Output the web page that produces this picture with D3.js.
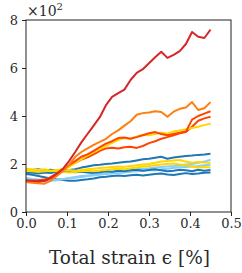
<!DOCTYPE html>
<html>
<head>
<meta charset="utf-8">
<script src="https://d3js.org/d3.v7.min.js"></script>
<style>
  body { margin: 0; background: #fff; }
</style>
</head>
<body>
<svg width="242" height="273" font-family="'DejaVu Serif', serif"></svg>
<script>
// strain [%] sampled along each test
var strain = [0, 0.015, 0.03, 0.045, 0.06, 0.075, 0.09, 0.105, 0.12, 0.135, 0.15, 0.165, 0.18, 0.195, 0.21,
  0.225, 0.24, 0.255, 0.27, 0.285, 0.3, 0.315, 0.33, 0.345, 0.36, 0.375, 0.39, 0.405, 0.42, 0.435, 0.45];

// values in units of 10^2
var blue1 = [1.62, 1.65, 1.6, 1.65, 1.62, 1.68, 1.72, 1.75, 1.78, 1.85, 1.9, 1.95, 1.97, 2.0, 2.02, 2.05, 2.08, 2.1, 2.15, 2.2, 2.22, 2.26, 2.3, 2.22, 2.27, 2.3, 2.33, 2.35, 2.38, 2.4, 2.43];
var blue2 = [1.72, 1.75, 1.78, 1.73, 1.76, 1.72, 1.7, 1.68, 1.66, 1.68, 1.65, 1.63, 1.66, 1.7, 1.68, 1.72, 1.7, 1.74, 1.76, 1.72, 1.75, 1.78, 1.74, 1.7, 1.72, 1.76, 1.74, 1.7, 1.76, 1.72, 1.75];
var blue3 = [1.58, 1.55, 1.5, 1.45, 1.4, 1.36, 1.33, 1.3, 1.3, 1.33, 1.36, 1.4, 1.45, 1.47, 1.5, 1.52, 1.5, 1.53, 1.55, 1.52, 1.55, 1.58, 1.6, 1.56, 1.54, 1.58, 1.62, 1.58, 1.6, 1.64, 1.65];
var light1 = [1.42, 1.38, 1.35, 1.33, 1.32, 1.35, 1.38, 1.42, 1.46, 1.5, 1.52, 1.55, 1.6, 1.62, 1.65, 1.7, 1.72, 1.75, 1.78, 1.8, 1.82, 1.85, 1.88, 1.9, 1.92, 1.95, 1.98, 2.0, 2.05, 2.1, 2.18];
var light2 = [1.35, 1.32, 1.3, 1.28, 1.3, 1.32, 1.36, 1.4, 1.43, 1.46, 1.5, 1.52, 1.55, 1.58, 1.6, 1.62, 1.65, 1.68, 1.7, 1.72, 1.75, 1.73, 1.78, 1.8, 1.83, 1.86, 1.88, 1.9, 1.92, 1.95, 1.97];
var yellow1 = [1.8, 1.78, 1.75, 1.78, 1.72, 1.7, 1.72, 1.75, 1.72, 1.75, 1.78, 1.8, 1.83, 1.85, 1.88, 1.9, 1.88, 1.92, 1.95, 1.98, 2.0, 2.05, 2.1, 2.12, 2.15, 2.17, 2.1, 2.05, 2.08, 2.06, 2.05];
var yellow2 = [1.75, 1.72, 1.7, 1.68, 1.7, 1.72, 1.68, 1.65, 1.67, 1.7, 1.72, 1.7, 1.73, 1.75, 1.78, 1.8, 1.78, 1.82, 1.85, 1.9, 1.92, 1.95, 1.98, 2.0, 2.02, 1.98, 1.95, 1.9, 1.85, 1.87, 1.85];
var yellow3 = [1.72, 1.7, 1.68, 1.7, 1.72, 1.75, 1.78, 1.88, 2.05, 2.2, 2.35, 2.5, 2.62, 2.75, 2.88, 3.0, 3.08, 3.05, 3.15, 3.22, 3.2, 3.25, 3.3, 3.27, 3.35, 3.4, 3.45, 3.5, 3.55, 3.62, 3.68];
var redorange1 = [1.3, 1.27, 1.25, 1.3, 1.4, 1.55, 1.75, 1.95, 2.12, 2.3, 2.4, 2.55, 2.7, 2.85, 2.95, 3.08, 3.1, 3.05, 3.12, 3.2, 3.28, 3.33, 3.25, 3.2, 3.25, 3.3, 3.35, 3.85, 4.0, 4.1, 4.2];
var redorange2 = [1.28, 1.3, 1.32, 1.35, 1.45, 1.6, 1.78, 1.95, 2.05, 2.18, 2.28, 2.4, 2.55, 2.65, 2.68, 2.65, 2.7, 2.72, 2.67, 2.75, 2.87, 2.95, 3.05, 3.12, 3.2, 3.28, 3.33, 3.55, 3.8, 3.9, 3.97];
var orange = [1.25, 1.22, 1.2, 1.18, 1.3, 1.5, 1.7, 1.95, 2.3, 2.5, 2.65, 2.8, 2.92, 3.05, 3.25, 3.4, 3.6, 3.78, 4.05, 4.12, 4.15, 4.2, 4.17, 3.97, 4.18, 4.3, 4.35, 4.58, 4.25, 4.32, 4.58];
var red = [1.32, 1.3, 1.28, 1.3, 1.42, 1.6, 1.8, 2.12, 2.5, 2.9, 3.25, 3.6, 3.95, 4.45, 4.8, 4.95, 5.1, 5.5, 5.8, 5.95, 6.2, 6.45, 6.68, 6.42, 6.55, 6.7, 7.0, 7.5, 7.3, 7.25, 7.6];

var series = [blue3, light2, light1, blue2, yellow2, blue1, yellow1, redorange2, yellow3, redorange1, orange, red];
var colors = ["#1f77b4", "#87cefa", "#87cefa", "#1f77b4", "#ffd700", "#1f77b4", "#ffd700", "#ff4500", "#ffd700", "#ff4500", "#ff7f0e", "#d62728"];

var xTicks = [0, 0.1, 0.2, 0.3, 0.4, 0.5];
var yTicks = [0, 2, 4, 6, 8];

var svg = d3.select("svg"),
    margin = {top: 20, right: 11, bottom: 61, left: 26},
    width = +svg.attr("width") - margin.left - margin.right,
    height = +svg.attr("height") - margin.top - margin.bottom;

var g = svg.append("g").attr("transform", "translate(" + margin.left + "," + margin.top + ")");

var x = d3.scaleLinear().domain([0, 0.5]).range([0, width]);
var y = d3.scaleLinear().domain([0, 8]).range([height, 0]);

var line = d3.line()
    .x(function(d, i) { return x(strain[i]); })
    .y(function(d) { return y(d); });

g.selectAll(".run")
  .data(series)
  .enter().append("path")
    .attr("class", "run")
    .attr("fill", "none")
    .attr("stroke", function(d, i) { return colors[i]; })
    .attr("stroke-width", 2)
    .attr("stroke-linejoin", "round")
    .attr("d", line);

// frame
g.append("rect")
    .attr("width", width).attr("height", height)
    .attr("fill", "none").attr("stroke", "#222").attr("stroke-width", 1);

var xAxis = g.append("g")
    .attr("transform", "translate(0," + height + ")")
    .call(d3.axisBottom(x).tickValues(xTicks).tickFormat(d3.format(".1f")).tickSize(4).tickPadding(3));
var yAxis = g.append("g")
    .call(d3.axisLeft(y).tickValues(yTicks).tickSize(4).tickPadding(4));

[xAxis, yAxis].forEach(function(a) {
  a.attr("font-family", null).attr("font-size", null);
  a.select(".domain").remove();
  a.selectAll("line").attr("stroke", "#222");
  a.selectAll("text").attr("font-size", 13).attr("fill", "#2a2a2a");
});

g.append("text")
    .attr("x", 1).attr("y", -4)
    .attr("font-size", 14).attr("fill", "#2a2a2a")
    .text("\u00d710")
  .append("tspan")
    .attr("dy", -6).attr("font-size", 10)
    .text("2");

svg.append("text")
    .attr("x", margin.left + width / 2 + 1).attr("y", 264)
    .attr("text-anchor", "middle")
    .attr("font-size", 18.5).attr("fill", "#2a2a2a")
    .text("Total strain \u03f5 [%]");
</script>
</body>
</html>
